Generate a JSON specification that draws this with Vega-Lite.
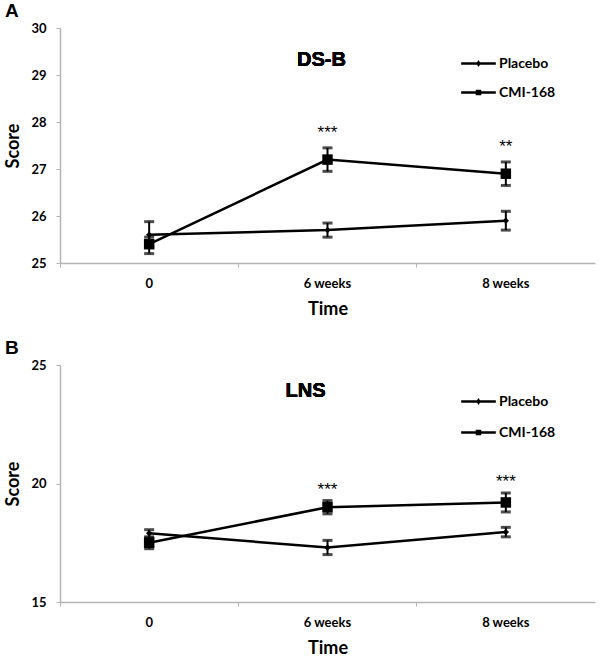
{
  "$schema": "https://vega.github.io/schema/vega-lite/v6.json",
  "padding": {"left": 4, "top": 2, "right": 3, "bottom": 0},
  "background": "white",
  "config": {
    "view": {"stroke": null},
    "font": "Lato",
    "axis": {
      "domainColor": "#b4b4b4",
      "tickColor": "#b4b4b4",
      "domainWidth": 1.5,
      "labelFont": "Lato",
      "labelFontWeight": "bold",
      "labelFontSize": 13,
      "labelColor": "black",
      "titleFont": "Lato",
      "titleFontWeight": "bold",
      "titleFontSize": 18,
      "titleColor": "black",
      "grid": false
    },
    "title": {"font": "Liberation Sans", "fontSize": 19, "fontWeight": "bold", "anchor": "start", "frame": "bounds", "color": "black"}
  },
  "data": {
    "values": [
      {"panel": "A", "group": "Placebo", "time": "0", "mean": 25.6, "lo": 25.35, "hi": 25.88, "sig": null},
      {"panel": "A", "group": "Placebo", "time": "6 weeks", "mean": 25.7, "lo": 25.55, "hi": 25.85, "sig": null},
      {"panel": "A", "group": "Placebo", "time": "8 weeks", "mean": 25.9, "lo": 25.7, "hi": 26.1, "sig": null},
      {"panel": "A", "group": "CMI-168", "time": "0", "mean": 25.4, "lo": 25.2, "hi": 25.55, "sig": null},
      {"panel": "A", "group": "CMI-168", "time": "6 weeks", "mean": 27.2, "lo": 26.95, "hi": 27.45, "sig": "***"},
      {"panel": "A", "group": "CMI-168", "time": "8 weeks", "mean": 26.9, "lo": 26.65, "hi": 27.15, "sig": "**"},
      {"panel": "B", "group": "Placebo", "time": "0", "mean": 17.9, "lo": 17.75, "hi": 18.05, "sig": null},
      {"panel": "B", "group": "Placebo", "time": "6 weeks", "mean": 17.3, "lo": 17.0, "hi": 17.6, "sig": null},
      {"panel": "B", "group": "Placebo", "time": "8 weeks", "mean": 17.95, "lo": 17.75, "hi": 18.15, "sig": null},
      {"panel": "B", "group": "CMI-168", "time": "0", "mean": 17.5, "lo": 17.25, "hi": 17.7, "sig": null},
      {"panel": "B", "group": "CMI-168", "time": "6 weeks", "mean": 19.0, "lo": 18.72, "hi": 19.28, "sig": "***"},
      {"panel": "B", "group": "CMI-168", "time": "8 weeks", "mean": 19.2, "lo": 18.8, "hi": 19.6, "sig": "***"}
    ]
  },
  "spacing": 21,
  "vconcat": [
    {
      "title": {"text": "A", "offset": 1},
      "width": 535,
      "height": 235,
      "transform": [{"filter": "datum.panel === 'A'"}],
      "layer": [
        {
          "layer": [
            {
              "mark": {"type": "line", "color": "black", "strokeWidth": 2.5},
              "encoding": {
                "x": {"field": "time", "type": "ordinal", "sort": ["0", "6 weeks", "8 weeks"],
                  "scale": {"type": "band", "paddingInner": 0, "paddingOuter": 0},
                  "axis": {"title": "Time", "labelAngle": 0, "ticks": false, "labelPadding": 14, "titlePadding": 10}},
                "y": {"field": "mean", "type": "quantitative", "scale": {"domain": [25, 30], "nice": false, "zero": false},
                  "axis": {"title": "Score", "values": [25, 26, 27, 28, 29, 30], "tickSize": 4, "labelPadding": 10, "titlePadding": 8}},
                "detail": {"field": "group"}
              }
            },
            {
              "mark": {"type": "rule", "color": "black", "strokeWidth": 2},
              "encoding": {
                "x": {"field": "time", "type": "ordinal"},
                "y": {"field": "lo", "type": "quantitative"},
                "y2": {"field": "hi"}
              }
            },
            {
              "mark": {"type": "tick", "color": "black", "thickness": 3, "size": 10},
              "encoding": {"x": {"field": "time", "type": "ordinal"}, "y": {"field": "hi", "type": "quantitative"}}
            },
            {
              "mark": {"type": "tick", "color": "black", "thickness": 3, "size": 10},
              "encoding": {"x": {"field": "time", "type": "ordinal"}, "y": {"field": "lo", "type": "quantitative"}}
            },
            {
              "mark": {"type": "point", "filled": true, "color": "black", "opacity": 1},
              "encoding": {
                "x": {"field": "time", "type": "ordinal"},
                "y": {"field": "mean", "type": "quantitative"},
                "shape": {"field": "group", "scale": {"domain": ["Placebo", "CMI-168"], "range": ["diamond", "square"]}, "legend": null},
                "size": {"field": "group", "scale": {"domain": ["Placebo", "CMI-168"], "range": [40, 110]}, "legend": null}
              }
            },
            {
              "mark": {"type": "text", "fontSize": 17, "font": "Liberation Sans", "baseline": "bottom", "dy": -6},
              "transform": [{"filter": "datum.sig != null"}],
              "encoding": {
                "x": {"field": "time", "type": "ordinal"},
                "y": {"field": "hi", "type": "quantitative"},
                "text": {"field": "sig"}
              }
            },
            {
              "mark": {"type": "text", "fontSize": 20, "font": "Liberation Sans", "fontWeight": "bold", "dx": -6},
              "encoding": {"x": {"datum": "6 weeks"}, "y": {"datum": 29.32}, "text": {"value": "DS-B"}}
            },
            {
              "mark": {"type": "point", "filled": true, "color": "black", "opacity": 1},
              "transform": [{"filter": "false"}],
              "encoding": {
                "x": {"field": "time", "type": "ordinal"},
                "y": {"field": "mean", "type": "quantitative"},
                "shape": {"field": "group", "type": "nominal",
                  "scale": {"domain": ["Placebo", "CMI-168"], "range": ["M-1,-0.07H1V0.07H-1Z M0,-0.2L0.13,0L0,0.2L-0.13,0Z", "M-1,-0.07H1V0.07H-1Z M-0.16,-0.16H0.16V0.16H-0.16Z"]},
                  "legend": {"title": null, "orient": "none", "legendX": 401, "legendY": 18,
                    "symbolSize": 1200, "symbolOpacity": 1, "symbolFillColor": "black",
                    "symbolStrokeWidth": 0, "labelFont": "Lato", "labelFontWeight": "bold", "labelFontSize": 14,
                    "labelColor": "black", "rowPadding": 4, "labelOffset": 3}}
              }
            }
          ],
          "resolve": {"scale": {"shape": "independent", "size": "independent"}, "legend": {"shape": "independent"}}
        },
        {
          "mark": {"type": "rule", "opacity": 0},
          "encoding": {
            "x": {"field": "time", "type": "ordinal", "sort": ["0", "6 weeks", "8 weeks"],
              "axis": {"orient": "bottom", "bandPosition": 0, "labels": false, "domain": false, "ticks": true, "tickSize": 4, "title": null}}
          }
        }
      ],
      "resolve": {"axis": {"x": "independent"}}
    },
    {
      "title": {"text": "B", "offset": 1},
      "width": 535,
      "height": 237,
      "transform": [{"filter": "datum.panel === 'B'"}],
      "layer": [
        {
          "layer": [
            {
              "mark": {"type": "line", "color": "black", "strokeWidth": 2.5},
              "encoding": {
                "x": {"field": "time", "type": "ordinal", "sort": ["0", "6 weeks", "8 weeks"],
                  "scale": {"type": "band", "paddingInner": 0, "paddingOuter": 0},
                  "axis": {"title": "Time", "labelAngle": 0, "ticks": false, "labelPadding": 14, "titlePadding": 10}},
                "y": {"field": "mean", "type": "quantitative", "scale": {"domain": [15, 25], "nice": false, "zero": false},
                  "axis": {"title": "Score", "values": [15, 20, 25], "tickSize": 4, "labelPadding": 10, "titlePadding": 8}},
                "detail": {"field": "group"}
              }
            },
            {
              "mark": {"type": "rule", "color": "black", "strokeWidth": 2},
              "encoding": {
                "x": {"field": "time", "type": "ordinal"},
                "y": {"field": "lo", "type": "quantitative"},
                "y2": {"field": "hi"}
              }
            },
            {
              "mark": {"type": "tick", "color": "black", "thickness": 3, "size": 10},
              "encoding": {"x": {"field": "time", "type": "ordinal"}, "y": {"field": "hi", "type": "quantitative"}}
            },
            {
              "mark": {"type": "tick", "color": "black", "thickness": 3, "size": 10},
              "encoding": {"x": {"field": "time", "type": "ordinal"}, "y": {"field": "lo", "type": "quantitative"}}
            },
            {
              "mark": {"type": "point", "filled": true, "color": "black", "opacity": 1},
              "encoding": {
                "x": {"field": "time", "type": "ordinal"},
                "y": {"field": "mean", "type": "quantitative"},
                "shape": {"field": "group", "scale": {"domain": ["Placebo", "CMI-168"], "range": ["diamond", "square"]}, "legend": null},
                "size": {"field": "group", "scale": {"domain": ["Placebo", "CMI-168"], "range": [40, 110]}, "legend": null}
              }
            },
            {
              "mark": {"type": "text", "fontSize": 17, "font": "Liberation Sans", "baseline": "bottom", "dy": -2},
              "transform": [{"filter": "datum.sig != null"}],
              "encoding": {
                "x": {"field": "time", "type": "ordinal"},
                "y": {"field": "hi", "type": "quantitative"},
                "text": {"field": "sig"}
              }
            },
            {
              "mark": {"type": "text", "fontSize": 20, "font": "Liberation Sans", "fontWeight": "bold", "dx": -22},
              "encoding": {"x": {"datum": "6 weeks"}, "y": {"datum": 23.9}, "text": {"value": "LNS"}}
            },
            {
              "mark": {"type": "point", "filled": true, "color": "black", "opacity": 1},
              "transform": [{"filter": "false"}],
              "encoding": {
                "x": {"field": "time", "type": "ordinal"},
                "y": {"field": "mean", "type": "quantitative"},
                "shape": {"field": "group", "type": "nominal",
                  "scale": {"domain": ["Placebo", "CMI-168"], "range": ["M-1,-0.07H1V0.07H-1Z M0,-0.2L0.13,0L0,0.2L-0.13,0Z", "M-1,-0.07H1V0.07H-1Z M-0.16,-0.16H0.16V0.16H-0.16Z"]},
                  "legend": {"title": null, "orient": "none", "legendX": 401, "legendY": 19,
                    "symbolSize": 1200, "symbolOpacity": 1, "symbolFillColor": "black",
                    "symbolStrokeWidth": 0, "labelFont": "Lato", "labelFontWeight": "bold", "labelFontSize": 14,
                    "labelColor": "black", "rowPadding": 6, "labelOffset": 3}}
              }
            }
          ],
          "resolve": {"scale": {"shape": "independent", "size": "independent"}, "legend": {"shape": "independent"}}
        },
        {
          "mark": {"type": "rule", "opacity": 0},
          "encoding": {
            "x": {"field": "time", "type": "ordinal", "sort": ["0", "6 weeks", "8 weeks"],
              "axis": {"orient": "bottom", "bandPosition": 0, "labels": false, "domain": false, "ticks": true, "tickSize": 4, "title": null}}
          }
        }
      ],
      "resolve": {"axis": {"x": "independent"}}
    }
  ]
}
